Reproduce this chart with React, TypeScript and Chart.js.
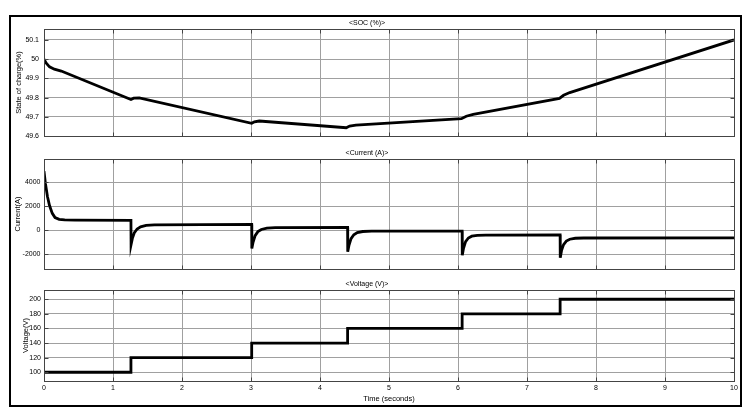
import React, { useEffect, useRef } from "react";
import { Chart, registerables } from "chart.js";

Chart.register(...registerables);

const FONT = "'Liberation Sans', Arial, sans-serif";

// Axis ticks
const timeTicks = [0, 1, 2, 3, 4, 5, 6, 7, 8, 9, 10];
const socTicks = [49.6, 49.7, 49.8, 49.9, 50, 50.1];
const currentTicks = [-2000, 0, 2000, 4000];
const voltageTicks = [100, 120, 140, 160, 180, 200];

// State of charge (%)
const socTime = [0, 0.03, 0.08, 0.15, 0.25, 1.26, 1.3, 1.38, 3.01, 3.05, 3.12, 4.38, 4.43, 4.52, 6.05, 6.12, 6.22, 7.47, 7.53, 7.62, 10];
const socValues = [50.0, 49.98, 49.96, 49.948, 49.938, 49.79, 49.797, 49.798, 49.666, 49.674, 49.678, 49.643, 49.652, 49.657, 49.69, 49.703, 49.712, 49.796, 49.812, 49.826, 50.1];

// Current (A)
const currentTime = [
  0, 0.02, 0.05, 0.08, 0.12, 0.16, 0.22, 0.3, 0.45, 1.26,
  1.262, 1.28, 1.31, 1.35, 1.4, 1.48, 1.6, 3.01,
  3.012, 3.03, 3.06, 3.1, 3.15, 3.23, 3.35, 4.4,
  4.402, 4.42, 4.45, 4.49, 4.54, 4.62, 4.75, 6.06,
  6.062, 6.08, 6.11, 6.15, 6.2, 6.28, 6.4, 7.48,
  7.482, 7.5, 7.53, 7.57, 7.62, 7.7, 7.82, 10,
];
const currentValues = [
  4900, 3900, 2800, 2050, 1400, 1050, 900, 850, 830, 820,
  -1190, -700, -200, 100, 280, 400, 450, 480,
  -1520, -1000, -450, -120, 60, 170, 210, 225,
  -1800, -1250, -700, -380, -200, -110, -85, -80,
  -2080, -1500, -950, -650, -500, -430, -410, -400,
  -2290, -1700, -1200, -900, -750, -670, -650, -640,
];

// Voltage (V)
const voltageTime = [0, 1.26, 3.01, 4.4, 6.06, 7.48, 10];
const voltageValues = [100, 120, 140, 160, 180, 200, 200];

const boxPlugin = {
  id: "plotBox",
  afterDraw(chart: any) {
    const { ctx, chartArea } = chart;
    const l = Math.round(chartArea.left) + 0.5;
    const t = Math.round(chartArea.top) + 0.5;
    const r = Math.round(chartArea.right) + 0.5;
    const b = Math.round(chartArea.bottom) + 0.5;
    ctx.save();
    ctx.strokeStyle = "#444";
    ctx.lineWidth = 1;
    ctx.strokeRect(l, t, r - l, b - t);
    // inner tick marks
    ctx.beginPath();
    const ys = chart.scales.y;
    ys.ticks.forEach((tk: any) => {
      const y = Math.round(ys.getPixelForValue(tk.value)) + 0.5;
      ctx.moveTo(l, y);
      ctx.lineTo(l + 4, y);
      ctx.moveTo(r, y);
      ctx.lineTo(r - 4, y);
    });
    const xs = chart.scales.x;
    xs.ticks.forEach((tk: any) => {
      const x = Math.round(xs.getPixelForValue(tk.value)) + 0.5;
      ctx.moveTo(x, b);
      ctx.lineTo(x, b - 4);
      ctx.moveTo(x, t);
      ctx.lineTo(x, t + 4);
    });
    ctx.stroke();
    ctx.restore();
  },
};

type PanelProps = {
  top: number;
  height: number;
  times: number[];
  values: number[];
  yMin: number;
  yMax: number;
  yTicks: number[];
  title: string;
  titlePad: { top: number; bottom: number };
  yTitle: string;
  yTitlePad: number;
  yTickPad: number;
  showX: boolean;
  xHeight: number;
  stepped?: boolean;
};

function Panel(p: PanelProps) {
  const ref = useRef<HTMLCanvasElement>(null);
  useEffect(() => {
    if (!ref.current) return;
    const grid = { color: "#a0a0a0", lineWidth: 1, drawTicks: false };
    const chart = new Chart(ref.current, {
      type: "line",
      data: {
        datasets: [
          {
            data: p.times.map((t, i) => ({ x: t, y: p.values[i] })),
            borderColor: "#000",
            borderWidth: 2.8,
            pointRadius: 0,
            tension: 0,
            fill: false,
            stepped: p.stepped ? "before" : false,
          } as any,
        ],
      },
      options: {
        responsive: false,
        animation: false,
        layout: { padding: { left: 0, right: 16, top: 0, bottom: 0 } },
        plugins: {
          legend: { display: false },
          tooltip: { enabled: false },
          title: {
            display: true,
            text: p.title,
            color: "#000",
            font: { size: 7, family: FONT, weight: "normal" },
            padding: p.titlePad,
          },
        },
        scales: {
          x: {
            type: "linear",
            min: 0,
            max: 10,
            afterBuildTicks: (axis: any) => {
              axis.ticks = timeTicks.map((v) => ({ value: v }));
            },
            afterFit: (s: any) => {
              s.height = p.xHeight;
            },
            grid,
            border: { display: false },
            ticks: {
              display: p.showX,
              padding: 3,
              color: "#000",
              font: { size: 7, family: FONT },
              maxRotation: 0,
              callback: (v: any) => String(v),
            },
            title: {
              display: p.showX,
              text: "Time (seconds)",
              color: "#000",
              font: { size: 7.5, family: FONT },
              padding: { top: 0, bottom: 1.5 },
            },
          },
          y: {
            type: "linear",
            min: p.yMin,
            max: p.yMax,
            afterBuildTicks: (axis: any) => {
              axis.ticks = p.yTicks.map((v) => ({ value: v }));
            },
            afterFit: (s: any) => {
              s.width = 44;
            },
            grid,
            border: { display: false },
            ticks: {
              padding: p.yTickPad,
              color: "#000",
              font: { size: 7, family: FONT },
              callback: (v: any) => String(Math.round(Number(v) * 10) / 10),
            },
            title: {
              display: true,
              text: p.yTitle,
              color: "#000",
              font: { size: 7.5, family: FONT },
              padding: { top: p.yTitlePad, bottom: 0 },
            },
          },
        },
      } as any,
      plugins: [boxPlugin],
    });
    return () => chart.destroy();
  }, []);
  return (
    <canvas
      ref={ref}
      width={750}
      height={p.height}
      style={{ position: "absolute", left: 0, top: p.top, width: 750, height: p.height }}
    />
  );
}

export default function App() {
  Chart.defaults.font.family = FONT;
  return (
    <div style={{ position: "fixed", left: 0, top: 0, width: 750, height: 412, background: "#fff", overflow: "hidden" }}>
      <Panel
        top={17}
        height={129}
        times={socTime}
        values={socValues}
        yMin={49.6}
        yMax={50.157}
        yTicks={socTicks}
        title="<SOC (%)>"
        titlePad={{ top: 1.8, bottom: 1.8 }}
        yTitle="State of charge(%)"
        yTitlePad={14.5}
        yTickPad={5}
        showX={false}
        xHeight={10}
      />
      <Panel
        top={145}
        height={134}
        times={currentTime}
        values={currentValues}
        yMin={-3225}
        yMax={5917}
        yTicks={currentTicks}
        title="<Current (A)>"
        titlePad={{ top: 4.3, bottom: 1.3 }}
        yTitle="Current(A)"
        yTitlePad={13.5}
        yTickPad={3.5}
        showX={false}
        xHeight={10}
      />
      <Panel
        top={276}
        height={129}
        times={voltageTime}
        values={voltageValues}
        yMin={88}
        yMax={212.7}
        yTicks={voltageTicks}
        title="<Voltage (V)>"
        titlePad={{ top: 3.8, bottom: 1.8 }}
        yTitle="Voltage(V)"
        yTitlePad={21}
        yTickPad={3}
        showX={true}
        xHeight={24}
        stepped={true}
      />
      <div
        style={{
          position: "absolute",
          left: 9,
          top: 15,
          width: 733,
          height: 392,
          boxSizing: "border-box",
          border: "2px solid #000",
          pointerEvents: "none",
        }}
      />
    </div>
  );
}
